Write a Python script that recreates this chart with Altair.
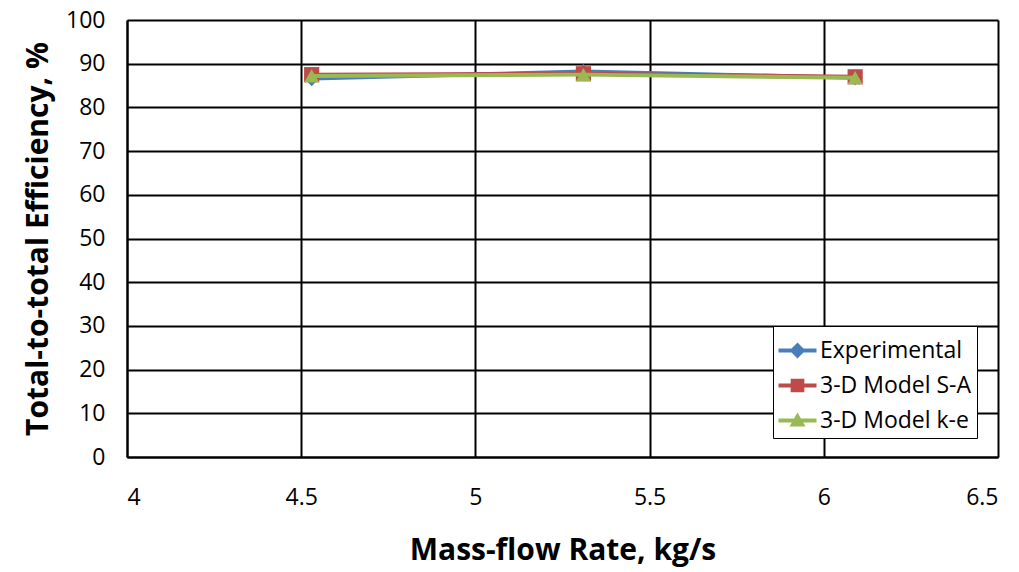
import altair as alt
import pandas as pd

mass_flow = [4.53, 5.31, 6.09]
experimental = [86.6, 88.2, 86.8]
model_sa = [87.5, 87.7, 87.0]
model_ke = [87.2, 87.5, 86.8]

series_names = ["Experimental", "3-D Model S-A", "3-D Model k-e"]
series_colors = ["#4A7EBB", "#BE4B48", "#98B954"]
series_shapes = ["diamond", "square", "triangle-up"]

rows = []
for name, vals in zip(series_names, [experimental, model_sa, model_ke]):
    for x, y in zip(mass_flow, vals):
        rows.append({"x": x, "y": y, "series": name, "marker": name})
df = pd.DataFrame(rows)

FONT = "Open Sans"

# legend glyphs: a line with the series marker on it
line_bar = "M-1,-0.1 L1,-0.1 L1,0.1 L-1,0.1 Z "
glyph_diamond = line_bar + "M0,-0.42 L0.42,0 L0,0.42 L-0.42,0 Z"
glyph_square = line_bar + "M-0.36,-0.36 L0.36,-0.36 L0.36,0.36 L-0.36,0.36 Z"
glyph_triangle = line_bar + "M0,-0.42 L0.42,0.32 L-0.42,0.32 Z"
legend_glyphs = [glyph_diamond, glyph_square, glyph_triangle]

x_enc = alt.X("x:Q", scale=alt.Scale(domain=[4, 6.5], nice=False),
              axis=alt.Axis(values=[4, 4.5, 5, 5.5, 6, 6.5], format="~g",
                            title="Mass-flow Rate, kg/s", titleFontSize=30,
                            titleFontWeight="bold", titlePadding=26,
                            labelFontSize=23, labelPadding=29, ticks=False,
                            grid=True, gridColor="black", gridWidth=2,
                            domainColor="black", domainWidth=2,
                            labelColor="black", titleColor="black"))
y_enc = alt.Y("y:Q", scale=alt.Scale(domain=[0, 100], nice=False),
              axis=alt.Axis(values=list(range(0, 101, 10)),
                            title="Total-to-total Efficiency, %", titleFontSize=30,
                            titleFontWeight="bold", titlePadding=12,
                            labelFontSize=23, labelPadding=22, ticks=False,
                            grid=True, gridColor="black", gridWidth=2,
                            domainColor="black", domainWidth=2,
                            labelColor="black", titleColor="black"))

color_scale = alt.Scale(domain=series_names, range=series_colors)
color_plain = alt.Color("series:N", scale=color_scale, legend=None)

legend_props = dict(
    title=None, orient="none", legendX=646, legendY=306,
    fillColor="white", strokeColor="black", padding=5,
    labelFontSize=23, labelFont=FONT, labelColor="black", labelOffset=3,
    symbolSize=1444, rowPadding=3, symbolOpacity=1, symbolStrokeWidth=0.5)

legend_layer = alt.Chart(df).mark_point(filled=True, size=1444, opacity=0).encode(
    x=x_enc, y=y_enc,
    color=alt.Color("series:N", scale=color_scale, legend=alt.Legend(**legend_props)),
    shape=alt.Shape("series:N", scale=alt.Scale(domain=series_names, range=legend_glyphs),
                    legend=alt.Legend(**legend_props)))
layers = [legend_layer]

for name in series_names:
    sub = df[df.series == name]
    layers.append(alt.Chart(sub).mark_line(strokeWidth=4).encode(
        x="x:Q", y="y:Q", color=color_plain))
    layers.append(alt.Chart(sub).mark_point(filled=True, size=230, opacity=1).encode(
        x="x:Q", y="y:Q", color=color_plain,
        shape=alt.Shape("marker:N", scale=alt.Scale(domain=series_names, range=series_shapes),
                        legend=None)))

chart = alt.layer(*layers).resolve_scale(shape="independent").resolve_legend(
    color="independent", shape="independent").properties(
    width=871, height=437,
    autosize=alt.AutoSizeParams(type="none"),
    padding={"left": 119, "top": 12, "right": 8, "bottom": 113},
).configure(font=FONT).configure_view(stroke=None)

chart.save("out.html", embed_options={"renderer": "svg", "actions": False})
